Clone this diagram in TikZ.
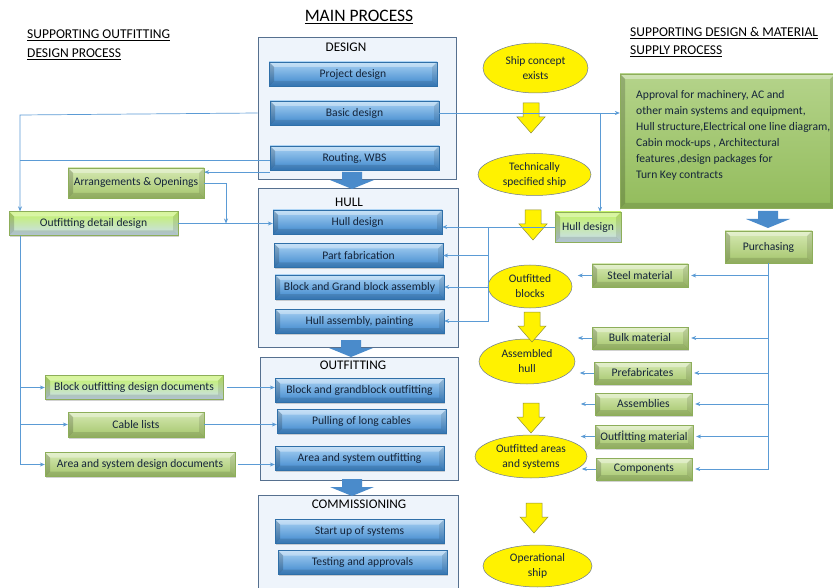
\documentclass[tikz,border=0pt]{standalone}
\usepackage{fontspec}
\setmainfont{Carlito}
\usetikzlibrary{arrows.meta,shadows,shapes.geometric}

\definecolor{bartop}{HTML}{A8D1F3}
\definecolor{barbot}{HTML}{3C86CC}
\definecolor{barline}{HTML}{2F6FA8}
\definecolor{navytext}{HTML}{14243A}
\definecolor{gtop}{HTML}{D6E9B3}
\definecolor{gbot}{HTML}{A4C56B}
\definecolor{gline}{HTML}{8DAE5A}
\definecolor{paleblue}{HTML}{C9DDF2}
\definecolor{stagefill}{HTML}{EEF4FB}
\definecolor{stageline}{HTML}{56708F}
\definecolor{conn}{HTML}{5B9BD5}
\definecolor{bigblue}{HTML}{4A8BCB}
\definecolor{ylw}{HTML}{FFF200}
\definecolor{ylwline}{HTML}{8F8F3A}
\definecolor{ellline}{HTML}{6A7894}
\definecolor{bigtop}{HTML}{B4D38A}
\definecolor{bigbot}{HTML}{93BC5C}

\tikzset{
  bevel/.style={path picture={
    \fill[white,opacity=0.35] (path picture bounding box.north west) -- (path picture bounding box.north east)
      -- ([xshift=-5pt,yshift=-5pt]path picture bounding box.north east) -- ([xshift=5pt,yshift=-5pt]path picture bounding box.north west) -- cycle;
    \fill[black,opacity=0.18] (path picture bounding box.north west) -- ([xshift=5pt,yshift=-5pt]path picture bounding box.north west)
      -- ([xshift=5pt,yshift=5pt]path picture bounding box.south west) -- (path picture bounding box.south west) -- cycle;
    \fill[black,opacity=0.10] (path picture bounding box.north east) -- ([xshift=-5pt,yshift=-5pt]path picture bounding box.north east)
      -- ([xshift=-5pt,yshift=5pt]path picture bounding box.south east) -- (path picture bounding box.south east) -- cycle;
    \fill[black,opacity=0.12] (path picture bounding box.south west) -- ([xshift=5pt,yshift=5pt]path picture bounding box.south west)
      -- ([xshift=-5pt,yshift=5pt]path picture bounding box.south east) -- (path picture bounding box.south east) -- cycle;
  }},
  bar/.style={rectangle, minimum width=169pt, minimum height=24pt, inner sep=0pt,
    top color=bartop, bottom color=barbot, draw=barline, line width=0.3pt,
    font=\fontsize{11.6}{13}\selectfont, text=navytext, bevel,
    drop shadow={shadow xshift=1pt, shadow yshift=-1.5pt, opacity=0.35, fill=gray}},
  gbox/.style={rectangle, inner sep=0pt, top color=gtop, bottom color=gbot, draw=gline, line width=0.3pt,
    font=\fontsize{11.6}{13}\selectfont, text=navytext, bevel,
    drop shadow={shadow xshift=1pt, shadow yshift=-1.5pt, opacity=0.35, fill=gray}},
  gbbox/.style={gbox, top color=gtop!80!green!70!yellow, bottom color=paleblue},
  stage/.style={rectangle, draw=stageline, fill=stagefill, line width=0.6pt, inner sep=0pt},
  stagetitle/.style={font=\fontsize{13.2}{15}\selectfont, text=black, inner sep=0pt},
  goal/.style={ellipse, fill=ylw, draw=ellline, line width=0.5pt, inner sep=0pt, align=center,
    font=\fontsize{11.5}{15}\selectfont, text=navytext},
  line/.style={draw=conn, line width=0.7pt},
  arr/.style={line, -{Stealth[length=5pt,width=4pt]}},
  heading/.style={font=\fontsize{13.5}{18.5}\selectfont, text=black, align=left, inner sep=0pt, anchor=north west},
  bigdown/.pic={
    \fill[bigblue] (-10,0) -- (10,0) -- (10,8) -- (22,8) -- (0,17) -- (-22,8) -- (-10,8) -- cycle;
  },
  ydown/.pic={
    \filldraw[fill=yellow, draw=ylwline, line width=0.5pt]
      (-8,0) -- (8,0) -- (8,14) -- (14,14) -- (0,30) -- (-14,14) -- (-8,14) -- cycle;
  },
}

\begin{document}
\begin{tikzpicture}[x=1pt,y=-1pt]
\useasboundingbox (0,0) rectangle (833,588);
\fill[white] (0,0) rectangle (833,588);

% headings
\node[font=\fontsize{17.5}{20}\selectfont, inner sep=0pt] (mainhead) at (359,17) {\underline{MAIN PROCESS}};
\node[heading] (lefthead) at (27,30) {\underline{SUPPORTING OUTFITTING}\\\underline{DESIGN PROCESS}};
\node[heading] (righthead) at (630,27) {\underline{SUPPORTING DESIGN \& MATERIAL}\\\underline{SUPPLY PROCESS}};

% main process stages
\node[stage, minimum width=198pt, minimum height=142pt] (designbox) at (357,108) {};
\node[stagetitle] (designtitle) at (346,47) {DESIGN};
\node[stage, minimum width=200pt, minimum height=159pt] (hullbox) at (358,267.5) {};
\node[stagetitle] (hulltitle) at (349,202) {HULL};
\node[stage, minimum width=198pt, minimum height=123pt] (outbox) at (359,418.5) {};
\node[stagetitle] (outtitle) at (353,365) {OUTFITTING};
\filldraw[fill=stagefill, draw=stageline, line width=0.6pt] (258,589) -- (258,495) -- (458,495) -- (458,589);
\node[stagetitle] (comtitle) at (359,504) {COMMISSIONING};

\node[bar, minimum width=168pt] (pd) at (353,74) {Project design};
\node[bar] (bd) at (354.5,113) {Basic design};
\node[bar] (rw) at (354.5,158) {Routing, WBS};
\node[bar] (hd) at (357.5,222) {Hull design};
\node[bar] (pf) at (358.5,255.5) {Part fabrication};
\node[bar] (bg) at (359.5,287) {Block and Grand block assembly};
\node[bar] (ha) at (359.5,321) {Hull assembly, painting};
\node[bar] (bgo) at (359.5,390.5) {Block and grandblock outfitting};
\node[bar] (plc) at (361.5,421.5) {Pulling of long cables};
\node[bar] (aso) at (359.5,458.5) {Area and system outfitting};
\node[bar] (sus) at (359.5,531.5) {Start up of systems};
\node[bar] (ta) at (362.5,562.5) {Testing and approvals};

% stage-to-stage arrows
\pic at (352,172) {bigdown};
\pic at (351,340) {bigdown};
\pic at (352,479) {bigdown};

% supporting outfitting design
\node[gbox, minimum width=136pt, minimum height=30pt] (ao) at (136,183) {Arrangements \& Openings};
\node[gbbox, minimum width=169pt, minimum height=24pt] (odd) at (93.5,223.5) {Outfitting detail design};
\node[gbbox, minimum width=178pt, minimum height=24pt] (bodd) at (134,387.5) {Block outfitting design documents};
\node[gbox, minimum width=136pt, minimum height=25pt] (cl) at (136,424.5) {Cable lists};
\node[gbox, minimum width=190pt, minimum height=24pt] (asdd) at (140,464.5) {Area and system design documents};

% milestones
\node[goal, minimum width=105pt, minimum height=50pt] (sce) at (535.5,68) {Ship concept\\exists};
\node[goal, minimum width=113pt, minimum height=42pt] (tss) at (534.5,174.5) {Technically\\specified ship};
\node[goal, minimum width=84pt, minimum height=43pt] (ob) at (530,286.5) {Outfitted\\blocks};
\node[goal, minimum width=96pt, minimum height=45pt] (ah) at (527,361.5) {Assembled\\hull};
\node[goal, minimum width=112pt, minimum height=43pt] (oas) at (531,456.5) {Outfitted areas\\and systems};
\node[goal, minimum width=109pt, minimum height=42pt] (ops) at (537.5,566) {Operational\\ship};

\pic at (531,103) {ydown};
\pic at (533,210) {ydown};
\pic at (532,312) {ydown};
\pic at (531,403) {ydown};
\pic at (534,503) {ydown};

% supporting design & material supply
\node[rectangle, top color=bigtop, bottom color=bigbot, draw=gline, line width=0.3pt, bevel,
  drop shadow={shadow xshift=1pt, shadow yshift=-1.5pt, opacity=0.35, fill=gray},
  minimum width=215pt, minimum height=134pt, inner sep=0pt] (gbig) at (727.5,141) {};
\node[anchor=north west, align=left, inner sep=0pt, font=\fontsize{11.6}{16}\selectfont, text=navytext] (gtext) at (636,90)
  {Approval for machinery, AC and\\other main systems and equipment,\\Hull structure,Electrical one line diagram,\\Cabin mock-ups , Architectural\\features ,design packages for\\Turn Key contracts};
\pic at (768,211) {bigdown};

\node[gbbox, minimum width=66pt, minimum height=30pt] (hdg) at (588,227) {Hull design};
\node[gbox, minimum width=87pt, minimum height=32pt] (purch) at (768.5,247) {Purchasing};
\node[gbox, minimum width=96pt, minimum height=23pt] (steel) at (640,275.5) {Steel material};
\node[gbox, minimum width=96pt, minimum height=22pt] (bulk) at (640,338) {Bulk material};
\node[gbox, minimum width=97pt, minimum height=22pt] (prefab) at (642.5,373) {Prefabricates};
\node[gbox, minimum width=97pt, minimum height=22pt] (assemb) at (643.5,404) {Assemblies};
\node[gbox, minimum width=98pt, minimum height=23pt] (outmat) at (644,436.5) {Outfİtting material};
\node[gbox, minimum width=96pt, minimum height=22pt] (comp) at (644,469) {Components};

% connectors: outfitting design side
\coordinate (jl) at (20,115);
\coordinate (ja) at (226,183);
\draw[arr] (bd.west -| designbox.west) -- (jl) -- (jl |- odd.north);
\draw[line] ([yshift=-2pt]rw.west) -- ([yshift=-2pt]rw.west -| jl);
\draw[arr] ([yshift=-2pt]rw.south west) -- ([yshift=-2pt]rw.south west -| ao.east);
\draw[arr] (ao.east) -| (ja |- odd.east);
\draw[arr] (odd.east) -- (odd.east -| hd.west);
\draw[arr] (odd.south -| jl) |- (asdd.west);
\draw[arr] (jl |- bodd.west) -- (bodd.west);
\draw[arr] (jl |- cl.west) -- (cl.west);
\draw[arr] ([xshift=4pt]bodd.east) -- (bodd.east -| bgo.west);
\draw[arr] (cl.east) -- (cl.east -| plc.west);
\draw[arr] ([xshift=3pt]asdd.east) -- (asdd.east -| aso.west);

% connectors: design & material side
\coordinate (jh) at (600,113);
\coordinate (jv) at (488,227);
\draw[arr] (bd.east) -- (bd.east -| gbig.west);
\draw[arr] (jh) -- (jh |- hdg.north);
\draw[arr] (hdg.west) -- (hdg.west -| hd.east);
\draw[arr] (jv) |- (ha.east);
\draw[arr] (jv |- pf.east) -- (pf.east);
\draw[arr] (jv |- bg.east) -- (bg.east);

\draw[line] (purch.south) -- (purch.south |- comp.east);
\foreach \m in {steel,bulk,prefab,assemb,outmat,comp}{
  \draw[arr] (purch.south |- \m.east) -- ([xshift=3pt]\m.east);
  \draw[arr] (\m.west) -- ([xshift=-14pt]\m.west);
}
\end{tikzpicture}
\end{document}
